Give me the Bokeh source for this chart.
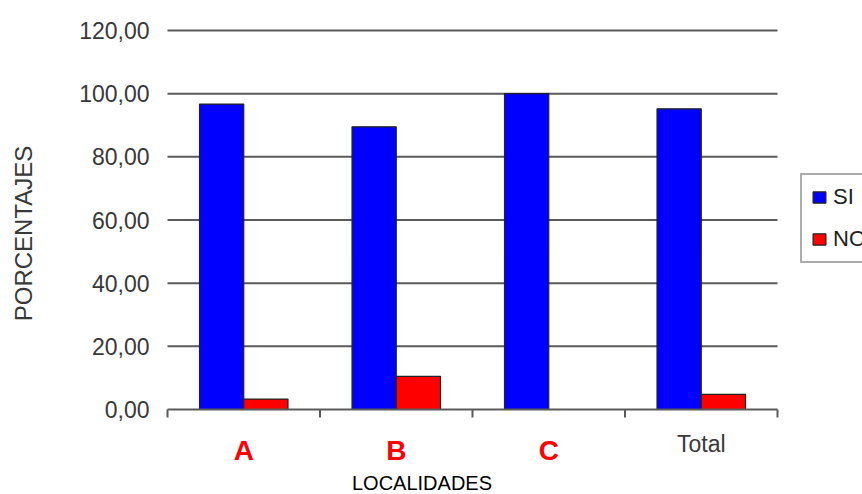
import math
from bokeh.plotting import figure
from bokeh.models import Range1d, ColumnDataSource
from bokeh.core.properties import value
from bokeh.embed import file_html
from bokeh.resources import INLINE

categories = ["A", "B", "C", "Total"]
si_values = [96.7, 89.5, 100.0, 95.2]
no_values = [3.3, 10.5, 0.0, 4.8]
y_ticks = [0, 20, 40, 60, 80, 100, 120]
y_tick_labels = ["0,00", "20,00", "40,00", "60,00", "80,00", "100,00", "120,00"]
series_names = ["SI", "NO"]
x_title = "LOCALIDADES"
y_title = "PORCENTAJES"

FONT = value("Liberation Sans")
W, H = 862, 494
# plot region inside the canvas (pixels)
L, R, T, B = 167, 777, 30, 409
ncat = len(categories)
ymax = 120
px_x = (R - L) / ncat          # pixels per x unit
px_y = (B - T) / ymax          # pixels per y unit

p = figure(width=W, height=H, output_backend="svg", toolbar_location=None,
           x_range=Range1d(-L / px_x, ncat + (W - R) / px_x),
           y_range=Range1d(-(H - B) / px_y, B / px_y),
           x_axis_location=None, y_axis_location=None,
           min_border=0, min_border_left=0, min_border_right=0,
           min_border_top=0, min_border_bottom=0)
p.outline_line_color = None
p.grid.visible = False
p.background_fill_color = "white"
p.border_fill_color = "white"

GRID = "#5a5a5a"
TXT = "#383838"

# horizontal gridlines
grid_t = [t for t in y_ticks if t != 0]
p.segment(x0=[0] * len(grid_t), x1=[ncat] * len(grid_t), y0=grid_t,
          y1=grid_t, line_color=GRID, line_width=2)

# y tick labels
p.text(x=[-18 / px_x] * len(y_ticks), y=y_ticks, text=y_tick_labels,
       text_align="right", text_baseline="middle", text_font=FONT,
       text_font_size="23px", text_color=TXT)

centers = [i + 0.5 for i in range(ncat)]
src = ColumnDataSource(dict(x_si=[c - 0.145 for c in centers],
                            x_no=[c + 0.145 for c in centers],
                            si=si_values, no=no_values))

p.vbar(x="x_si", top="si", width=0.29, source=src, fill_color="#0000ff",
       line_color="#222222", line_width=1.2, legend_label=series_names[0])
p.vbar(x="x_no", top="no", width=0.29, source=src, fill_color="#ff0000",
       line_color="#222222", line_width=1.2, legend_label=series_names[1])

# x axis line and boundary tick marks
p.segment(x0=[0], x1=[ncat], y0=[0], y1=[0], line_color=GRID, line_width=2)
bounds = list(range(ncat + 1))
p.segment(x0=bounds, x1=bounds, y0=[0] * len(bounds),
          y1=[-8 / px_y] * len(bounds), line_color=GRID, line_width=2)

# category labels
bold_x = [c for c, n in zip(centers, categories) if n != "Total"]
bold_t = [n for n in categories if n != "Total"]
norm_x = [c for c, n in zip(centers, categories) if n == "Total"]
norm_t = [n for n in categories if n == "Total"]
p.text(x=bold_x, y=[-41 / px_y] * len(bold_x), text=bold_t,
       text_align="center", text_baseline="middle", text_font=FONT,
       text_font_size="28px", text_font_style="bold", text_color="#ff0000")
p.text(x=norm_x, y=[-34 / px_y] * len(norm_x), text=norm_t,
       text_align="center", text_baseline="middle", text_font=FONT,
       text_font_size="23px", text_color=TXT)

# axis titles
p.text(x=[(421.5 - L) / px_x], y=[-73.5 / px_y], text=[x_title],
       text_align="center", text_baseline="middle", text_font=FONT,
       text_font_size="20px", text_color="#000000")
p.text(x=[(23 - L) / px_x], y=[(B - 233) / px_y], text=[y_title],
       angle=math.pi / 2, text_align="center", text_baseline="middle",
       text_font=FONT, text_font_size="24px", text_color=TXT)

# legend
lg = p.legend[0]
lg.location = (800, H - 263)
lg.orientation = "vertical"
lg.border_line_color = GRID
lg.border_line_width = 2
lg.background_fill_color = "white"
lg.background_fill_alpha = 1
lg.label_text_font = "Liberation Sans"
lg.label_text_font_size = "22px"
lg.label_text_color = "#222222"
lg.glyph_width = 16
lg.glyph_height = 14
lg.label_standoff = 6
lg.label_width = 60
lg.padding = 9
lg.spacing = 16
lg.margin = 0

open("out.html", "w").write(file_html(p, INLINE))
